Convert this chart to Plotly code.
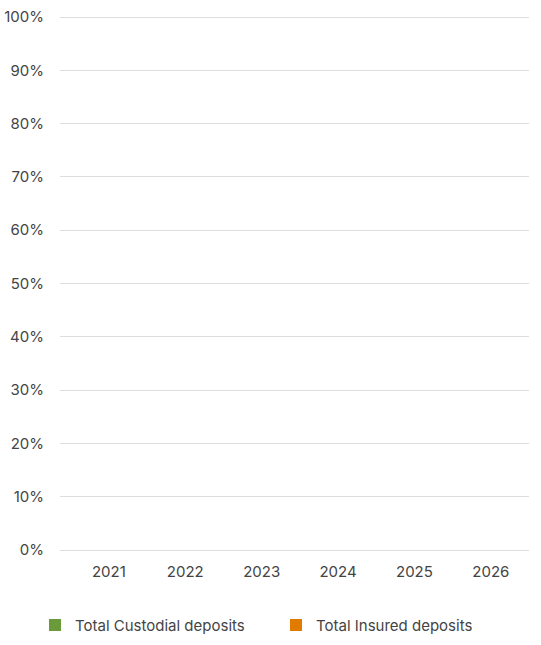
import plotly.graph_objects as go

years = ["2021", "2022", "2023", "2024", "2025", "2026"]
custodial = [0, 0, 0, 0, 0, 0]
insured = [0, 0, 0, 0, 0, 0]
y_ticks = [0, 10, 20, 30, 40, 50, 60, 70, 80, 90, 100]
y_labels = ["0%", "10%", "20%", "30%", "40%", "50%", "60%", "70%", "80%", "90%", "100%"]

fig = go.Figure()
fig.add_trace(go.Bar(x=years, y=custodial, name="Total Custodial deposits",
                     marker=dict(color="#6a9a3a", line=dict(width=0))))
fig.add_trace(go.Bar(x=years, y=insured, name="Total Insured deposits",
                     marker=dict(color="#e07b00", line=dict(width=0))))

fig.update_layout(
    width=541, height=645,
    margin=dict(l=60, r=12, t=16, b=95, autoexpand=False),
    paper_bgcolor="white", plot_bgcolor="white",
    font=dict(family="Inter, Noto Sans, sans-serif", size=15, color="#444444"),
    barmode="group",
    showlegend=True,
    legend=dict(orientation="h", x=-0.0533, xanchor="left", y=-0.141, yanchor="middle",
                entrywidth=196, entrywidthmode="pixels", itemwidth=30,
                font=dict(size=15, color="#444444"), bgcolor="rgba(0,0,0,0)"),
)
fig.update_xaxes(type="category", range=[-0.64, 5.5], showgrid=False, showline=False,
                 ticks="", ticklabelstandoff=11, zeroline=False, automargin=False)
fig.update_yaxes(range=[0, 100.2], tickmode="array", tickvals=y_ticks, ticktext=y_labels,
                 showgrid=True, gridcolor="#dddddd", gridwidth=1, zeroline=True,
                 zerolinecolor="#dddddd", zerolinewidth=1,
                 showline=False, ticks="", ticklabelstandoff=15, automargin=False)

fig.write_html("out.html", config={"displayModeBar": False},
               post_script="document.body.style.margin='0';")
